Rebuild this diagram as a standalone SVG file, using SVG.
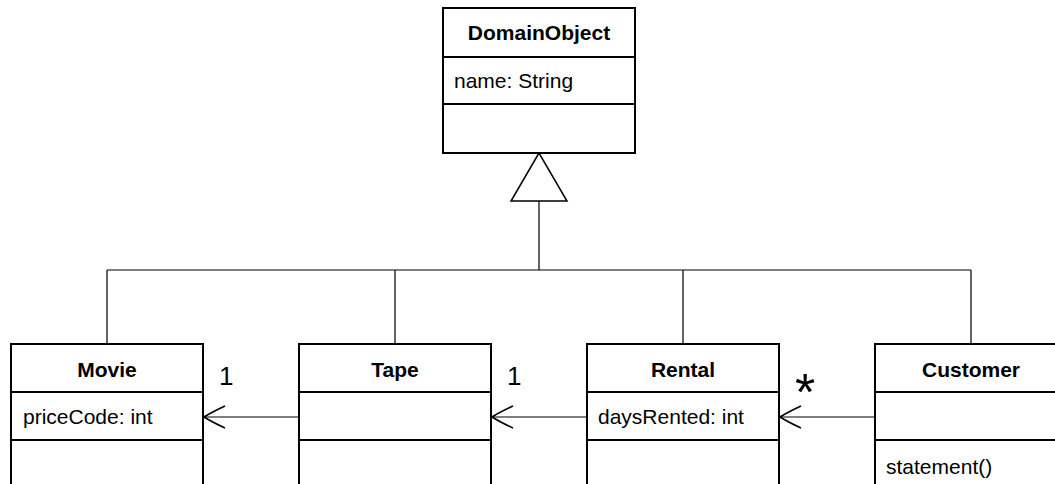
<svg xmlns="http://www.w3.org/2000/svg" width="1055" height="484" viewBox="0 0 1055 484">
<style>
.box{fill:#fff;stroke:#000;stroke-width:2}
.div{stroke:#000;stroke-width:2}
.ln{fill:none;stroke:#000;stroke-width:1.2}
.ah{fill:none;stroke:#000;stroke-width:1.6}
.t{font-family:"Liberation Sans",Arial,sans-serif;font-size:21px;fill:#000}
.b{font-weight:bold;text-anchor:middle}
.m{font-family:"Liberation Sans",Arial,sans-serif;font-size:26px;fill:#000}
.s{font-family:"Liberation Sans",Arial,sans-serif;font-size:52px;fill:#000;text-anchor:middle}
</style>
<rect width="1055" height="484" fill="#fff"/>
<g id="connectors">
<path class="ln" d="M539,201 V270 M107,270 H971 M107,270 V344 M395,270 V344 M683,270 V344 M971,270 V344"/>
<polygon points="539,153 511,201 567,201" fill="#fff" stroke="#000" stroke-width="1.5"/>
<path class="ln" d="M299,417 H203 M587,417 H491 M875,417 H779"/>
<path class="ah" d="M225,406 Q212,412 204,417 Q212,422 225,428"/>
<path class="ah" d="M513,406 Q500,412 492,417 Q500,422 513,428"/>
<path class="ah" d="M801,406 Q788,412 780,417 Q788,422 801,428"/>
<text class="m" x="219" y="385">1</text>
<text class="m" x="507" y="385">1</text>
<text class="s" x="805" y="410">*</text>
</g>
<g id="DomainObject">
<rect class="box" x="443" y="8" width="192" height="145"/>
<line class="div" x1="443" y1="57" x2="635" y2="57"/>
<line class="div" x1="443" y1="104" x2="635" y2="104"/>
<text class="t b" x="539" y="40">DomainObject</text>
<text class="t" x="454" y="88">name: String</text>
</g>
<g id="Movie">
<rect class="box" x="11" y="344" width="192" height="160"/>
<line class="div" x1="11" y1="392" x2="203" y2="392"/>
<line class="div" x1="11" y1="440" x2="203" y2="440"/>
<text class="t b" x="107" y="377">Movie</text>
<text class="t" x="23" y="424">priceCode: int</text>
</g>
<g id="Tape">
<rect class="box" x="299" y="344" width="192" height="160"/>
<line class="div" x1="299" y1="392" x2="491" y2="392"/>
<line class="div" x1="299" y1="440" x2="491" y2="440"/>
<text class="t b" x="395" y="377">Tape</text>
</g>
<g id="Rental">
<rect class="box" x="587" y="344" width="192" height="160"/>
<line class="div" x1="587" y1="392" x2="779" y2="392"/>
<line class="div" x1="587" y1="440" x2="779" y2="440"/>
<text class="t b" x="683" y="377">Rental</text>
<text class="t" x="598" y="424">daysRented: int</text>
</g>
<g id="Customer">
<rect class="box" x="875" y="344" width="192" height="160"/>
<line class="div" x1="875" y1="392" x2="1067" y2="392"/>
<line class="div" x1="875" y1="440" x2="1067" y2="440"/>
<text class="t b" x="971" y="377">Customer</text>
<text class="t" x="886" y="474">statement()</text>
</g>
</svg>
